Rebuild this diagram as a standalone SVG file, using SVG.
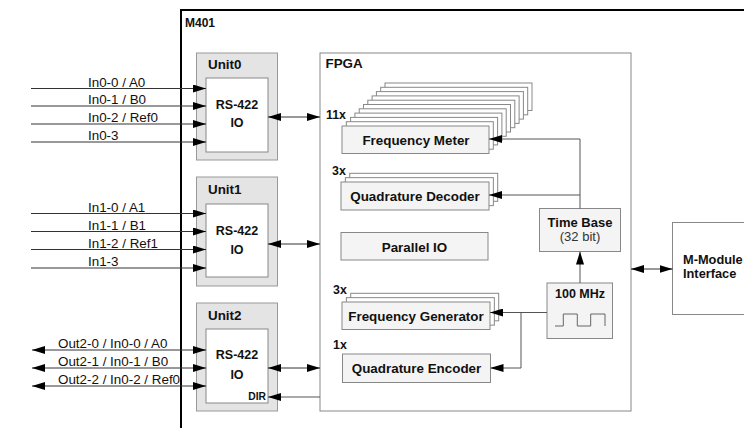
<svg xmlns="http://www.w3.org/2000/svg" width="744" height="428" viewBox="0 0 744 428">
<style>
text{font-family:"Liberation Sans",Arial,sans-serif;fill:#111}
.b{font-weight:bold;font-size:13.4px}
.r{font-size:13.4px}
.c{text-anchor:middle}
.unit{fill:#e4e4e4;stroke:#999;stroke-width:1}
.inner{fill:#fff;stroke:#888;stroke-width:1}
.fpga{fill:#fff;stroke:#888;stroke-width:1}
.blk{fill:#f4f4f4;stroke:#888;stroke-width:1}
.stk{fill:#fff;stroke:#888;stroke-width:1}
.ext{stroke:#333;stroke-width:1;fill:none}
.int{stroke:#555;stroke-width:1;fill:none}
</style>
<defs>
<marker id="ah" viewBox="0 0 13 8" refX="13" refY="4" markerWidth="13" markerHeight="8" markerUnits="userSpaceOnUse" orient="auto-start-reverse">
<path d="M0,0 L13,4 L0,8 z" fill="#000"/>
</marker>
</defs>

<g id="m401">
<rect x="181" y="10" width="600" height="440" fill="none" stroke="#000" stroke-width="2"/>
<text x="185" y="27" style="font-weight:bold;font-size:12px">M401</text>
</g>

<g id="unit0">
<rect class="unit" x="196.5" y="53" width="81" height="107"/>
<text class="b" x="208" y="69">Unit0</text>
<rect class="inner" x="206" y="78" width="62" height="74"/>
<text class="b c" x="237" y="109" style="font-size:12.5px">RS-422</text>
<text class="b c" x="237" y="127" style="font-size:12.5px">IO</text>
</g>

<g id="unit1">
<rect class="unit" x="196.5" y="177" width="81" height="109"/>
<text class="b" x="208" y="194">Unit1</text>
<rect class="inner" x="206" y="204" width="62" height="73"/>
<text class="b c" x="237" y="235" style="font-size:12.5px">RS-422</text>
<text class="b c" x="237" y="254" style="font-size:12.5px">IO</text>
</g>

<g id="unit2">
<rect class="unit" x="196.5" y="303" width="81" height="108"/>
<text class="b" x="208" y="320">Unit2</text>
<rect class="inner" x="206" y="329" width="62" height="74"/>
<text class="b c" x="237" y="359" style="font-size:12.5px">RS-422</text>
<text class="b c" x="237" y="379" style="font-size:12.5px">IO</text>
<text x="266" y="400" text-anchor="end" style="font-weight:bold;font-size:10.3px">DIR</text>
</g>

<g id="fpga">
<rect class="fpga" x="320" y="53" width="311" height="358"/>
<text class="b" x="325.5" y="68">FPGA</text>
</g>

<g id="freqmeter">
<rect class="stk" x="385" y="83" width="147" height="27.5"/>
<rect class="stk" x="380.7" y="87.3" width="147" height="27.5"/>
<rect class="stk" x="376.4" y="91.6" width="147" height="27.5"/>
<rect class="stk" x="372.1" y="95.9" width="147" height="27.5"/>
<rect class="stk" x="367.8" y="100.2" width="147" height="27.5"/>
<rect class="stk" x="363.5" y="104.5" width="147" height="27.5"/>
<rect class="stk" x="359.2" y="108.8" width="147" height="27.5"/>
<rect class="stk" x="354.9" y="113.1" width="147" height="27.5"/>
<rect class="stk" x="350.6" y="117.4" width="147" height="27.5"/>
<rect class="stk" x="346.3" y="121.7" width="147" height="27.5"/>
<rect class="blk" x="342" y="126" width="147" height="27.5"/>
<text class="b" x="326" y="119" style="font-size:12.4px">11x</text>
<text class="b c" x="416" y="145">Frequency Meter</text>
</g>

<g id="quaddecoder">
<rect class="stk" x="349.7" y="173.3" width="148" height="28"/>
<rect class="stk" x="345.35" y="177.65" width="148" height="28"/>
<rect class="blk" x="341" y="182" width="148" height="28"/>
<text class="b" x="332" y="175" style="font-size:12.4px">3x</text>
<text class="b c" x="415" y="200.5">Quadrature Decoder</text>
</g>

<g id="parallelio">
<rect class="blk" x="341" y="232.5" width="147" height="27.5"/>
<text class="b c" x="414.5" y="251.5">Parallel IO</text>
</g>

<g id="freqgen">
<rect class="stk" x="350.7" y="293.3" width="148" height="27.5"/>
<rect class="stk" x="346.35" y="297.65" width="148" height="27.5"/>
<rect class="blk" x="342" y="302" width="148" height="27.5"/>
<text class="b" x="333" y="294" style="font-size:12.4px">3x</text>
<text class="b c" x="416" y="320.5">Frequency Generator</text>
</g>

<g id="quadencoder">
<rect class="blk" x="342.5" y="354" width="148" height="28.5"/>
<text class="b" x="333" y="348.5" style="font-size:12.4px">1x</text>
<text class="b c" x="416.5" y="373">Quadrature Encoder</text>
</g>

<g id="timebase">
<rect class="blk" x="539.5" y="208.5" width="81" height="43"/>
<text class="b c" x="580" y="227" style="font-size:13px">Time Base</text>
<text class="r c" x="580" y="240.5" style="font-size:13px;fill:#333">(32 bit)</text>
</g>

<g id="clock">
<rect class="blk" x="547" y="283" width="65.5" height="55.5"/>
<text class="b c" x="580" y="298" style="font-size:12.5px">100 MHz</text>
<path d="M555,326 H563.3 V314 H577.3 V326 H590.7 V314 H605 V326" fill="none" stroke="#666" stroke-width="1"/>
</g>

<g id="mmodule">
<rect x="672.5" y="222.5" width="90" height="92" fill="#fff" stroke="#888" stroke-width="1"/>
<text class="b" x="683" y="264" style="font-size:12.8px">M-Module</text>
<text class="b" x="683" y="278" style="font-size:12.8px">Interface</text>
</g>

<g id="connectors">
<line class="ext" x1="31" y1="88.5" x2="206" y2="88.5" marker-end="url(#ah)"/>
<line class="ext" x1="31" y1="106" x2="206" y2="106" marker-end="url(#ah)"/>
<line class="ext" x1="31" y1="124" x2="206" y2="124" marker-end="url(#ah)"/>
<line class="ext" x1="31" y1="142" x2="206" y2="142" marker-end="url(#ah)"/>
<line class="ext" x1="31" y1="213.5" x2="206" y2="213.5" marker-end="url(#ah)"/>
<line class="ext" x1="31" y1="231.5" x2="206" y2="231.5" marker-end="url(#ah)"/>
<line class="ext" x1="31" y1="249.5" x2="206" y2="249.5" marker-end="url(#ah)"/>
<line class="ext" x1="31" y1="268" x2="206" y2="268" marker-end="url(#ah)"/>
<line class="ext" x1="32" y1="350" x2="206" y2="350" marker-start="url(#ah)" marker-end="url(#ah)"/>
<line class="ext" x1="32" y1="368" x2="206" y2="368" marker-start="url(#ah)" marker-end="url(#ah)"/>
<line class="ext" x1="32" y1="386" x2="206" y2="386" marker-start="url(#ah)" marker-end="url(#ah)"/>
<line class="ext" x1="268" y1="117" x2="320" y2="117" marker-start="url(#ah)" marker-end="url(#ah)"/>
<line class="ext" x1="268" y1="244" x2="320" y2="244" marker-start="url(#ah)" marker-end="url(#ah)"/>
<line class="ext" x1="268" y1="368" x2="320" y2="368" marker-start="url(#ah)" marker-end="url(#ah)"/>
<line class="int" x1="320" y1="397" x2="268" y2="397" marker-end="url(#ah)"/>
<line class="ext" x1="631" y1="269" x2="672.5" y2="269" marker-start="url(#ah)" marker-end="url(#ah)"/>
<path class="int" d="M580,208.5 V139 H489" marker-end="url(#ah)"/>
<path class="int" d="M580,195 H489" marker-end="url(#ah)"/>
<line class="int" x1="580" y1="283" x2="580" y2="251.5" marker-end="url(#ah)"/>
<path class="int" d="M547,312.5 H490" marker-end="url(#ah)"/>
<path class="int" d="M521,312.5 V368 H490.5" marker-end="url(#ah)"/>
</g>

<g id="labels">
<text class="r" x="88" y="86.5">In0-0 / A0</text>
<text class="r" x="88" y="104">In0-1 / B0</text>
<text class="r" x="88" y="122">In0-2 / Ref0</text>
<text class="r" x="88" y="140">In0-3</text>
<text class="r" x="88" y="211.5">In1-0 / A1</text>
<text class="r" x="88" y="229.5">In1-1 / B1</text>
<text class="r" x="88" y="247.5">In1-2 / Ref1</text>
<text class="r" x="88" y="266">In1-3</text>
<text class="r" x="58" y="348">Out2-0 / In0-0 / A0</text>
<text class="r" x="58" y="366">Out2-1 / In0-1 / B0</text>
<text class="r" x="58" y="384">Out2-2 / In0-2 / Ref0</text>
</g>
</svg>
